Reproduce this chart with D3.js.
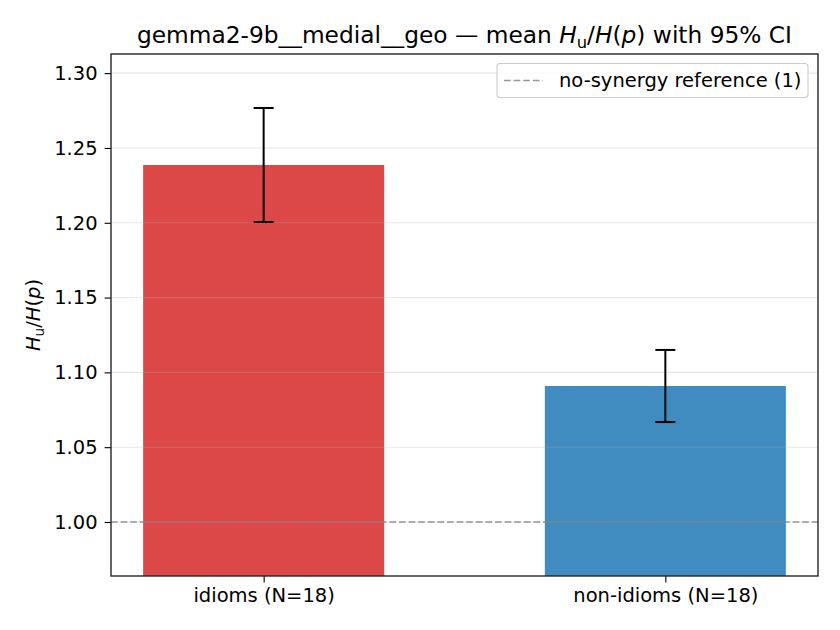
<!DOCTYPE html>
<html>
<head>
<meta charset="utf-8">
<script src="https://cdn.jsdelivr.net/npm/d3@7"></script>
<style>
  body { margin: 0; background: #fff; }
  text { font-family: "DejaVu Sans", sans-serif; fill: #000; }
</style>
</head>
<body>
<div id="chart"></div>
<script>
// data
const categories = ["idioms (N=18)", "non-idioms (N=18)"]
const means = [1.2386, 1.0909]
const ciLow = [1.2005, 1.0668]
const ciHigh = [1.2767, 1.1150]
const barColors = ["#d62728", "#1f77b4"]
const yTicks = [1.00, 1.05, 1.10, 1.15, 1.20, 1.25, 1.30]
const refValue = 1

const config = {
    width: 840,
    height: 630,
    margin: { top: 54, right: 22, bottom: 54, left: 111 }
}
const visWidth = config.width - config.margin.left - config.margin.right
const visHeight = config.height - config.margin.top - config.margin.bottom

const data = categories.map((c, i) => ({ cat: c, i: i, mean: means[i], lo: ciLow[i], hi: ciHigh[i], color: barColors[i] }))

const xScale = d3.scaleLinear().domain([-0.38, 1.38]).range([0, visWidth])
const yScale = d3.scaleLinear().domain([0.9639, 1.3128]).range([visHeight, 0])
const barWidth = xScale(0.6) - xScale(0)

const svg = d3.select("#chart").append("svg")
    .attr("width", config.width)
    .attr("height", config.height)

const chart = svg.append("g")
    .attr("transform", `translate(${config.margin.left},${config.margin.top})`)

svg.append("defs").append("clipPath").attr("id", "plot-clip")
    .append("rect").attr("width", visWidth).attr("height", visHeight)

const plot = chart.append("g").attr("clip-path", "url(#plot-clip)")

// bars
plot.selectAll(".bar")
    .data(data)
    .join("rect")
    .attr("class", "bar")
    .attr("x", d => xScale(d.i) - barWidth / 2)
    .attr("width", barWidth)
    .attr("y", d => yScale(d.mean))
    .attr("height", d => visHeight - yScale(d.mean) + 5)
    .attr("fill", d => d.color)
    .attr("fill-opacity", 0.85)

// grid on top of bars
plot.selectAll(".grid")
    .data(yTicks)
    .join("line")
    .attr("class", "grid")
    .attr("x1", 0).attr("x2", visWidth)
    .attr("y1", d => yScale(d)).attr("y2", d => yScale(d))
    .attr("stroke", "#b0b0b0")
    .attr("stroke-opacity", 0.3)
    .attr("stroke-width", 1.1)

// reference line
plot.append("line")
    .attr("x1", 0).attr("x2", visWidth)
    .attr("y1", yScale(refValue)).attr("y2", yScale(refValue))
    .attr("stroke", "#808080")
    .attr("stroke-opacity", 0.8)
    .attr("stroke-width", 1.5)
    .attr("stroke-dasharray", "6.7,2.9")

// error bars
const capHalf = 10
const err = chart.selectAll(".err").data(data).join("g").attr("class", "err")
    .attr("stroke", "#000").attr("stroke-width", 2)
err.append("line")
    .attr("x1", d => xScale(d.i)).attr("x2", d => xScale(d.i))
    .attr("y1", d => yScale(d.lo)).attr("y2", d => yScale(d.hi))
err.append("line")
    .attr("x1", d => xScale(d.i) - capHalf).attr("x2", d => xScale(d.i) + capHalf)
    .attr("y1", d => yScale(d.lo)).attr("y2", d => yScale(d.lo))
err.append("line")
    .attr("x1", d => xScale(d.i) - capHalf).attr("x2", d => xScale(d.i) + capHalf)
    .attr("y1", d => yScale(d.hi)).attr("y2", d => yScale(d.hi))

// axes
const yAxis = d3.axisLeft(yScale).tickValues(yTicks).tickFormat(d3.format(".2f")).tickSize(6.4).tickPadding(7)
const xAxis = d3.axisBottom(xScale).tickValues([0, 1]).tickFormat(d => categories[d]).tickSize(6.4).tickPadding(6)

const yAxisGroup = chart.append("g").attr("class", "axis y-axis").call(yAxis)
const xAxisGroup = chart.append("g").attr("class", "axis x-axis")
    .attr("transform", `translate(0,${visHeight})`).call(xAxis)

;[yAxisGroup, xAxisGroup].forEach(g => {
    g.select(".domain").remove()
    g.selectAll(".tick line").attr("stroke", "#000").attr("stroke-width", 1.1)
    g.selectAll(".tick text").style("font-family", "DejaVu Sans").style("font-size", "19.5px").attr("fill", "#000")
})

// frame
chart.append("rect")
    .attr("width", visWidth).attr("height", visHeight)
    .attr("fill", "none").attr("stroke", "#262626").attr("stroke-width", 1.4)

// title
const title = svg.append("text")
    .attr("x", config.margin.left + visWidth / 2)
    .attr("y", 43)
    .attr("text-anchor", "middle")
    .style("font-size", "23.3px")
title.append("tspan").text("gemma2-9b__medial__geo — mean ")
title.append("tspan").attr("font-style", "italic").text("H")
title.append("tspan").style("font-size", "16.3px").attr("dy", 4.5).text("u")
title.append("tspan").attr("dy", -4.5).text("/")
title.append("tspan").attr("font-style", "italic").text("H")
title.append("tspan").text("(")
title.append("tspan").attr("font-style", "italic").text("p")
title.append("tspan").text(") with 95% CI")

// y label
const ylab = svg.append("text")
    .attr("transform", `translate(40,${config.margin.top + visHeight / 2}) rotate(-90)`)
    .attr("text-anchor", "middle")
    .style("font-size", "19.5px")
ylab.append("tspan").attr("font-style", "italic").text("H")
ylab.append("tspan").style("font-size", "13.6px").attr("dy", 3.8).text("u")
ylab.append("tspan").attr("dy", -3.8).text("/")
ylab.append("tspan").attr("font-style", "italic").text("H")
ylab.append("tspan").text("(")
ylab.append("tspan").attr("font-style", "italic").text("p")
ylab.append("tspan").text(")")

// legend
const legend = svg.append("g").attr("transform", "translate(497,63.5)")
legend.append("rect")
    .attr("width", 311).attr("height", 34).attr("rx", 3)
    .attr("fill", "#fff").attr("fill-opacity", 0.8)
    .attr("stroke", "#cccccc").attr("stroke-width", 1.1)
legend.append("line")
    .attr("x1", 7).attr("x2", 46).attr("y1", 17).attr("y2", 17)
    .attr("stroke", "#808080").attr("stroke-opacity", 0.8)
    .attr("stroke-width", 1.5).attr("stroke-dasharray", "6.7,2.9")
legend.append("text")
    .attr("x", 62).attr("y", 17)
    .attr("dominant-baseline", "central")
    .style("font-size", "19.5px")
    .text("no-synergy reference (1)")
</script>
</body>
</html>
